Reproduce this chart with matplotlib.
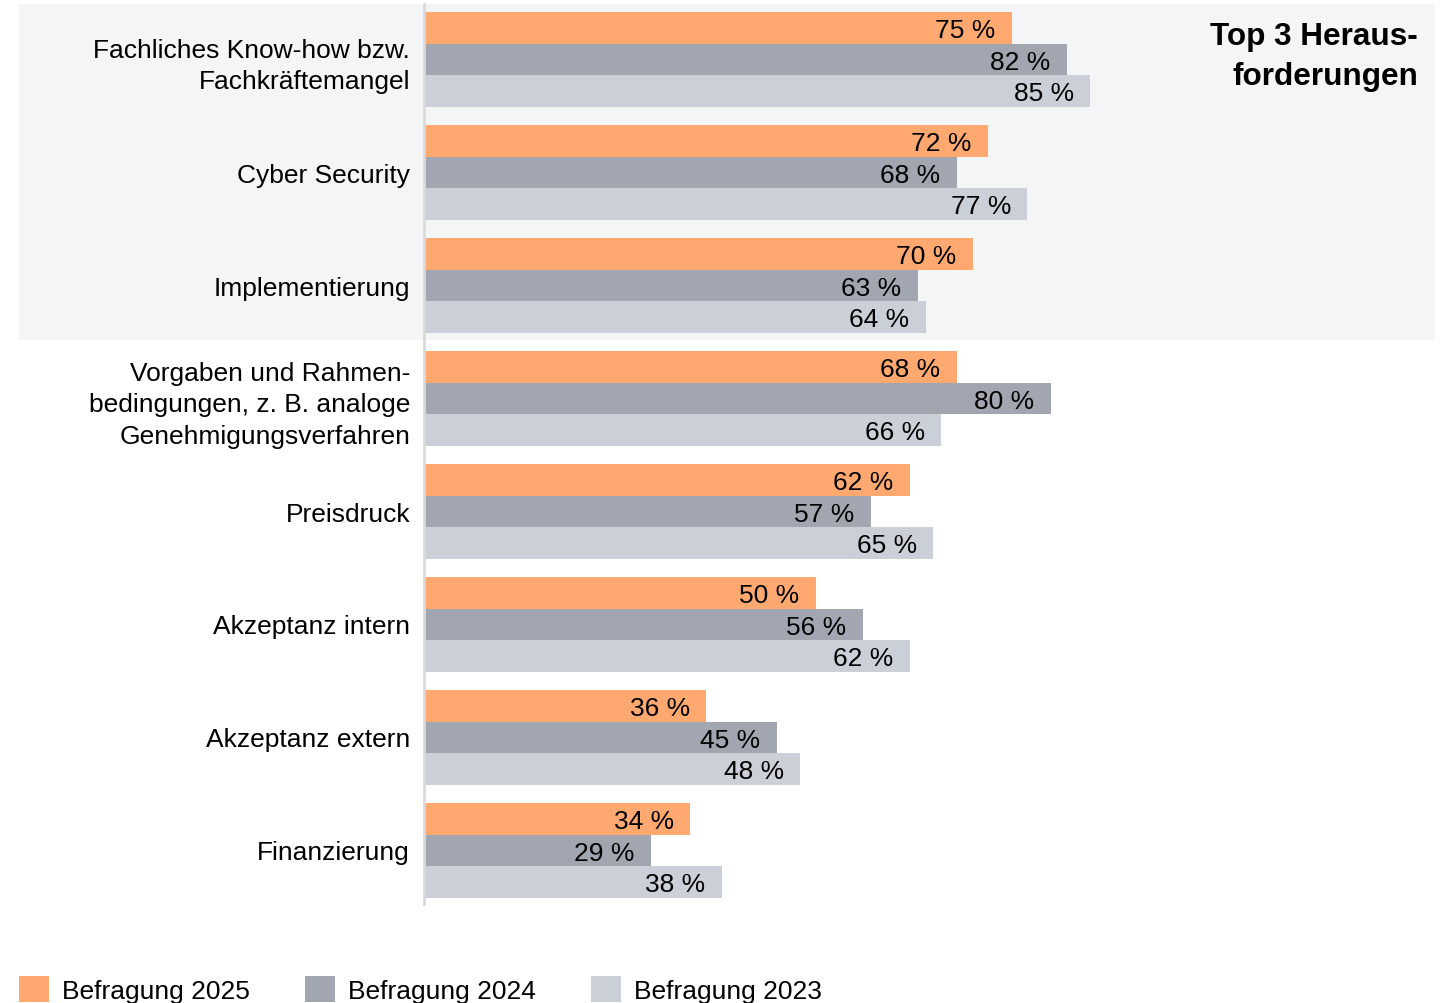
import matplotlib
matplotlib.use('Agg')
import matplotlib.pyplot as plt
import matplotlib.transforms as mtransforms
from matplotlib.patches import Rectangle, Patch
import numpy as np

plt.rcParams['font.family'] = ['Liberation Sans', 'DejaVu Sans']

categories = [
    'Fachliches Know-how bzw.\nFachkräftemangel',
    'Cyber Security',
    'Implementierung',
    'Vorgaben und Rahmen-\nbedingungen, z. B. analoge\nGenehmigungsverfahren',
    'Preisdruck',
    'Akzeptanz intern',
    'Akzeptanz extern',
    'Finanzierung',
]
series_names = ['Befragung 2025', 'Befragung 2024', 'Befragung 2023']
values_2025 = [75, 72, 70, 68, 62, 50, 36, 34]
values_2024 = [82, 68, 63, 80, 57, 56, 45, 29]
values_2023 = [85, 77, 64, 66, 65, 62, 48, 38]
colors = ['#FFA86F', '#A1A6B1', '#CBCFD7']

W, H = 1448, 1004
fig = plt.figure(figsize=(W / 100, H / 100), dpi=100)
ax = fig.add_axes([424 / W, 1 - 905 / H, (1435 - 424) / W, 900 / H])
ax.patch.set_visible(False)

y = np.arange(len(categories))
bh = 0.28
for k, vals in enumerate([values_2025, values_2024, values_2023]):
    pos = y - bh + k * bh + 0.005
    bars = ax.barh(pos, vals, height=bh, color=colors[k], zorder=2)
    for b, v in zip(bars, vals):
        ax.text(v - 2.1, b.get_y() + bh / 2 + 0.02, f'{v} %', ha='right',
                va='center', fontsize=19, color='black', zorder=3)

ax.set_xlim(0, 129)
ax.set_ylim(7.478, -0.487)
for s in ['top', 'right', 'bottom']:
    ax.spines[s].set_visible(False)
ax.spines['left'].set_color('#D9D9D9')
ax.spines['left'].set_linewidth(2)
ax.set_xticks([])
ax.set_yticks(y)
ax.set_yticklabels(categories, fontsize=19, linespacing=1.4,
                   multialignment='right')
ax.tick_params(axis='y', length=0, pad=10)

# shaded background behind top 3
trans = mtransforms.blended_transform_factory(fig.transFigure, ax.transData)
fig.patches.append(Rectangle((19 / W, -0.487), (1435 - 19) / W, 2.974,
                             transform=trans, facecolor='#F4F5F7',
                             edgecolor='none', zorder=-5))

fig.text(1418 / W, 1 - 22 / H, 'Top 3 Heraus-\nforderungen', ha='right',
         va='top', fontsize=22.7, fontweight='bold', multialignment='right',
         linespacing=1.42)

handles = [Patch(facecolor=c, edgecolor='none') for c in colors]
fig.legend(handles, series_names, loc='upper left',
           bbox_to_anchor=(19 / W, 1 - 977 / H), ncol=3, frameon=False,
           fontsize=19, handlelength=1.14, handleheight=1.14,
           handletextpad=0.49, columnspacing=2.08, borderpad=0,
           borderaxespad=0)

fig.savefig('out.png', dpi=100)
